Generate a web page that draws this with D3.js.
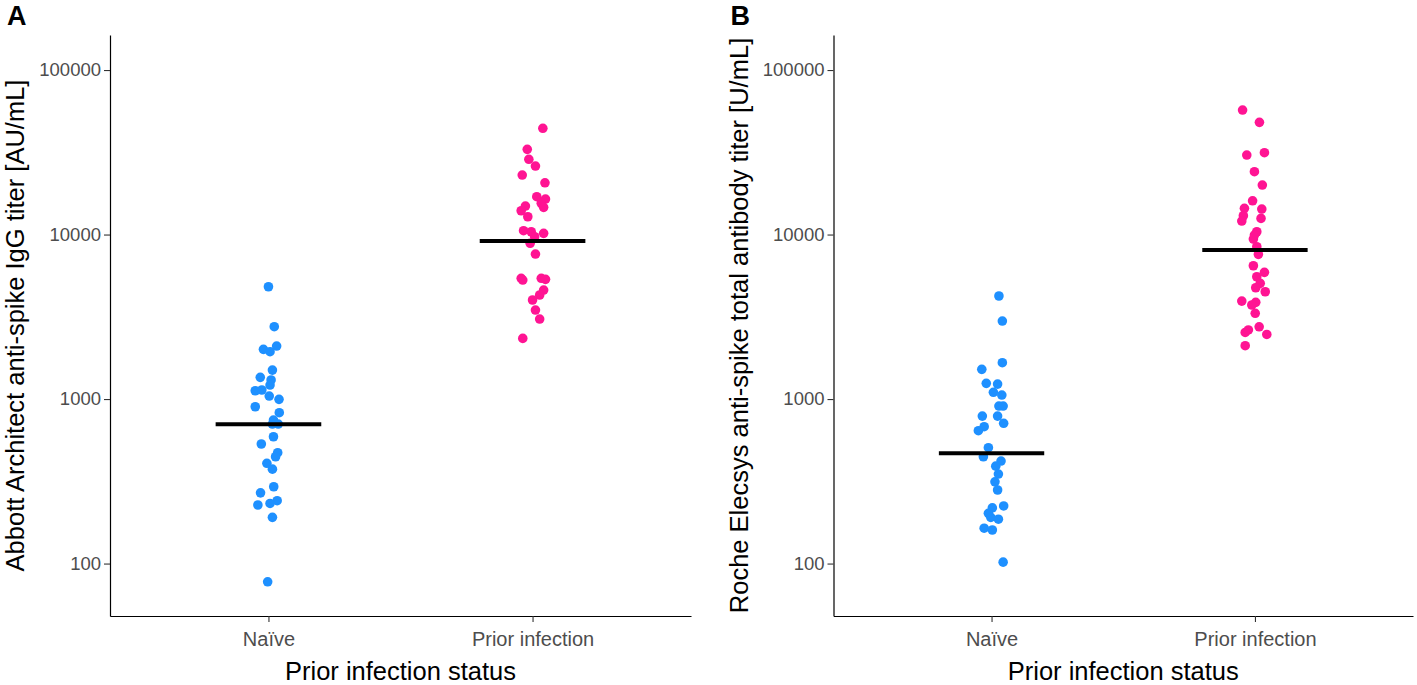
<!DOCTYPE html>
<html>
<head>
<meta charset="utf-8">
<script src="https://cdn.jsdelivr.net/npm/d3@7"></script>
<style>
  body { margin: 0; background: #fff; }
  svg { font-family: "Liberation Sans", Arial, sans-serif; }
</style>
</head>
<body>
<div id="chart"></div>
<script>
// groups on the x axis
const groups = ['Naïve', 'Prior infection'];
const yTicks = [100, 1000, 10000, 100000];

// Panel A - Abbott Architect IgG [AU/mL]
const abbottNaive = [4817, 2754, 2005, 2100, 1940, 1500, 1355, 1306, 1217, 1123, 1135, 1043, 996, 898, 826,
    745, 705, 705, 590, 533, 472, 446, 407, 375, 293, 269, 241, 232, 227, 191, 77.5];
const abbottNaiveJitter = [0, 0.022, -0.019, 0.031, 0.006, 0.015, -0.031, 0.010, 0.006, -0.05, -0.025, 0.003, 0.04, -0.05, 0.041,
    0.019, 0.015, 0.037, 0.019, -0.027, 0.035, 0.027, -0.006, 0.015, 0.02, -0.03, 0.033, 0.006, -0.04, 0.015, -0.003];
const abbottPrior = [44260, 32960, 28660, 26080, 23000, 20640, 16980, 16430, 15480, 14630, 14900, 13950, 12830, 10550, 10400,
    10170, 9700, 8850, 7610, 5420, 5290, 5420, 5340, 4600, 4290, 4000, 3475, 3065, 2338];
const abbottPriorJitter = [0.039, -0.02, -0.014, 0.011, -0.039, 0.047, 0.016, 0.049, 0.033, 0.042, -0.027, -0.043, -0.018, -0.034, -0.005,
    0.042, 0.008, -0.009, 0.011, -0.043, -0.037, 0.033, 0.049, 0.042, 0.027, 0, 0.011, 0.027, -0.037];
const abbottMedian = [702, 9130];

// Panel B - Roche Elecsys total antibody [U/mL]
const rocheNaive = [4230, 2980, 1663, 1516, 1246, 1233, 1099, 1058, 907, 907, 788, 788, 712, 679, 642,
    506, 446, 420, 391, 350, 314, 280, 224, 218, 202, 191, 186, 164, 160, 102];
const rocheNaiveJitter = [0.028, 0.041, 0.041, -0.037, -0.02, 0.023, 0.007, 0.039, 0.028, 0.044, -0.035, 0.023, 0.046, -0.028, -0.05,
    -0.012, -0.031, 0.036, 0.016, 0.026, 0.013, 0.023, 0.046, 0.003, -0.012, -0.003, 0.026, -0.028, 0.003, 0.044];
const rochePrior = [57130, 48100, 30430, 31430, 24090, 19990, 16040, 14430, 14290, 13010, 12080, 12540, 10400, 9930, 9390, 8430,
    7580, 6460, 5890, 5540, 5050, 4750, 4490, 3940, 3870, 3730, 3320, 2750, 2630, 2540, 2470, 2110];
const rochePriorJitter = [-0.047, 0.017, -0.031, 0.036, -0.002, 0.028, -0.009, -0.04, 0.026, -0.044, -0.05, 0.023, 0.007, -0.002, -0.006, 0.007,
    0.013, -0.006, 0.036, 0.007, 0.02, 0.003, 0.039, -0.05, 0.003, -0.012, 0.001, 0.016, -0.025, -0.037, 0.045, -0.037];
const rocheMedian = [468, 8050];

const colors = ['#1E90FF', '#FF1493'];

const W = 1417, H = 685;
const svg = d3.select('#chart').append('svg')
    .attr('width', W)
    .attr('height', H);

function drawPanel(opts) {
    const {left, right, top, bottom, letter, yTitle, values, jitter, medians} = opts;

    const x = d3.scalePoint().domain(groups).range([left, right]).padding(0.6);
    const y = d3.scaleLog().domain([48, 163300]).range([bottom, top]);
    const step = x.step();

    const g = svg.append('g');

    // points
    groups.forEach((grp, i) => {
        g.selectAll(null)
            .data(values[i].map((v, k) => ({v, j: jitter[i][k]})))
            .enter().append('circle')
            .attr('cx', d => x(grp) + d.j * step)
            .attr('cy', d => y(d.v))
            .attr('r', 4.8)
            .attr('fill', colors[i]);
    });

    // median bars
    g.selectAll('.median')
        .data(groups)
        .enter().append('line')
        .attr('class', 'median')
        .attr('x1', d => x(d) - 0.2 * step)
        .attr('x2', d => x(d) + 0.2 * step)
        .attr('y1', (d, i) => y(medians[i]))
        .attr('y2', (d, i) => y(medians[i]))
        .attr('stroke', '#000')
        .attr('stroke-width', 4);

    // y axis
    const yAxis = g.append('g')
        .attr('transform', `translate(${left},0)`)
        .call(d3.axisLeft(y).tickValues(yTicks).tickFormat(d3.format('d'))
            .tickSize(6).tickSizeOuter(0).tickPadding(3));

    // x axis
    const xAxis = g.append('g')
        .attr('transform', `translate(0,${bottom})`)
        .call(d3.axisBottom(x).tickSize(6).tickSizeOuter(0).tickPadding(10));

    [yAxis, xAxis].forEach(a => {
        a.select('.domain').attr('stroke', '#000').attr('stroke-width', 1.2);
        a.selectAll('.tick line').attr('stroke', '#333').attr('stroke-width', 1.1);
        a.selectAll('.tick text')
            .attr('fill', '#4D4D4D')
            .style('font-family', '"Liberation Sans", Arial, sans-serif');
    });
    yAxis.selectAll('.tick text').style('font-size', '18.5px');
    xAxis.selectAll('.tick text').style('font-size', '20px').attr('dy', '0.71em').attr('y', 16);

    // X Axis Label
    g.append('text')
        .attr('text-anchor', 'middle')
        .attr('x', (left + right) / 2)
        .attr('y', bottom + 64)
        .style('font-size', '25.5px')
        .attr('fill', '#000')
        .text('Prior infection status');

    // Y Axis Label
    g.append('text')
        .attr('text-anchor', 'middle')
        .attr('transform', 'rotate(-90)')
        .attr('x', -(top + bottom) / 2)
        .attr('y', left - 86)
        .style('font-size', '25.5px')
        .attr('fill', '#000')
        .text(yTitle);

    // panel letter
    g.append('text')
        .attr('x', left - 103)
        .attr('y', 25)
        .style('font-size', '27px')
        .style('font-weight', 'bold')
        .attr('fill', '#000')
        .text(letter);
}

drawPanel({
    left: 110, right: 691, top: 35, bottom: 616,
    letter: 'A',
    yTitle: 'Abbott Architect anti-spike IgG titer [AU/mL]',
    values: [abbottNaive, abbottPrior],
    jitter: [abbottNaiveJitter, abbottPriorJitter],
    medians: abbottMedian
});

drawPanel({
    left: 833.5, right: 1413, top: 35, bottom: 616,
    letter: 'B',
    yTitle: 'Roche Elecsys anti-spike total antibody titer [U/mL]',
    values: [rocheNaive, rochePrior],
    jitter: [rocheNaiveJitter, rochePriorJitter],
    medians: rocheMedian
});
</script>
</body>
</html>
